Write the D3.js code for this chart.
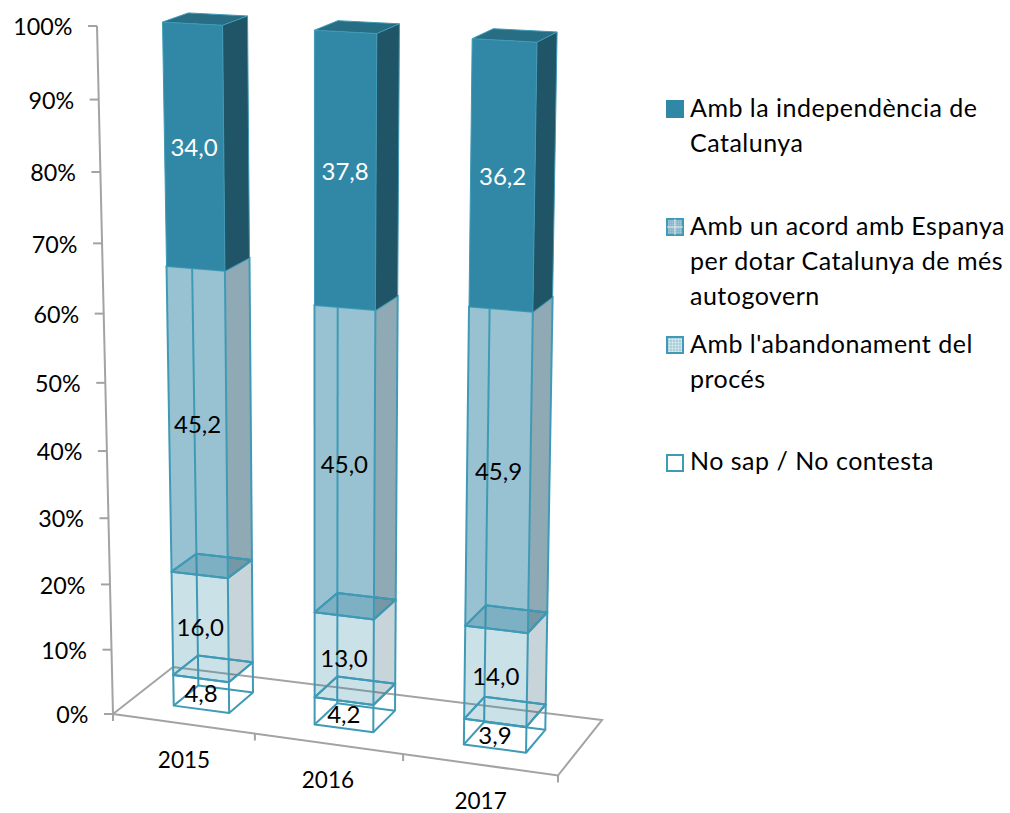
<!DOCTYPE html>
<html><head><meta charset="utf-8">
<script src="https://cdn.jsdelivr.net/npm/d3@7"></script>
<style>html,body{margin:0;padding:0;background:#fff}svg{display:block}text{font-family:Lato,"Noto Sans",sans-serif;fill:#000}</style>
</head><body><div id="chart"></div>
<script>
const categories = ["2015","2016","2017"];
const noSap = [4.8,4.2,3.9];
const abandonament = [16.0,13.0,14.0];
const acord = [45.2,45.0,45.9];
const independencia = [34.0,37.8,36.2];
const valueTicks = [0,10,20,30,40,50,60,70,80,90,100];
const legendLabels = [
  ["Amb la independència de","Catalunya"],
  ["Amb un acord amb Espanya","per dotar Catalunya de més","autogovern"],
  ["Amb l'abandonament del","procés"],
  ["No sap / No contesta"]
];

const W=1010,H=813;
const svg=d3.select("#chart").append("svg").attr("width",W).attr("height",H).attr("viewBox",[0,0,W,H]);

// projection: two calibrated planes (floor, ceiling) mapped from the unit square
function homography(A,B,C,D){
  const dx1=B[0]-C[0],dy1=B[1]-C[1],dx2=D[0]-C[0],dy2=D[1]-C[1];
  const sx=A[0]-B[0]+C[0]-D[0],sy=A[1]-B[1]+C[1]-D[1];
  const den=dx1*dy2-dy1*dx2;
  const g=(sx*dy2-sy*dx2)/den,h=(dx1*sy-dy1*sx)/den;
  const a=B[0]*(1+g)-A[0],b=D[0]*(1+h)-A[0],d=B[1]*(1+g)-A[1],e=D[1]*(1+h)-A[1];
  return (s,w)=>{const q=1+g*s+h*w;return [(A[0]+a*s+b*w)/q,(A[1]+d*s+e*w)/q];};
}
const floorPlane=homography([113,714],[558,775.5],[602,720],[173,667]);
const topPlane=homography([97,26],[570,52],[616,27.5],[160,4.5]);
const value=d3.scaleLinear().domain([0,100]).range([0,1]);
const persp=-0.072;
const frac=v=>{const t=value(v);return t*(1+persp)/(1+persp*t);};
const planeWarp=0.025;
const project=(s,w,v)=>{
  const sw=s+planeWarp*s*(1-s);
  const a=floorPlane(sw,w),b=topPlane(sw,w),f=frac(v);
  return [d3.interpolateNumber(a[0],b[0])(f),d3.interpolateNumber(a[1],b[1])(f)];
};
const band=d3.scaleBand().domain(categories).range([0.005,1.005]).paddingInner(0.6).paddingOuter(0.3);
const depth=d3.scaleLinear().domain([0,1]).range([0.29,0.71]);

const line=d3.line();
const grey="#a3a3a3";
const floor=svg.append("g").attr("fill","none").attr("stroke",grey).attr("stroke-width",2);
floor.append("path").attr("d",line([project(0,0,0),project(1,0,0),project(1,1,0),project(0,1,0)])+"Z");
floor.append("path").attr("d",line([project(0,0,0),project(0,0,100)]));
// value axis ticks and labels
const axis=svg.append("g");
valueTicks.forEach(t=>{
  const p=project(0,0,t);
  axis.append("line").attr("x1",p[0]-9).attr("x2",p[0]).attr("y1",p[1]).attr("y2",p[1]).attr("stroke",grey).attr("stroke-width",2);
  axis.append("text").attr("x",p[0]-24.5).attr("y",p[1]+1).attr("dy","0.35em").attr("text-anchor","end").attr("font-size",23.3).text(t+"%");
});
// category axis
[0,...categories.map((c,i)=>band.step()*(i+1)+(i===2?0:0.005))].forEach(s=>{
  const p=project(s,0,0);
  svg.append("line").attr("x1",p[0]).attr("x2",p[0]).attr("y1",p[1]).attr("y2",p[1]+7).attr("stroke",grey).attr("stroke-width",2);
});
categories.forEach(c=>{
  const p=project(band(c)+band.bandwidth()/2,0,0);
  svg.append("text").attr("x",p[0]).attr("y",p[1]+36).attr("dy","0.35em").attr("text-anchor","middle").attr("font-size",22.5).text(c);
});

// stacked 3D bars
const seriesList=[
  {values:noSap,front:null,side:null,top:null,text:"#000"},
  {values:abandonament,front:"rgba(49,134,164,0.25)",side:"rgba(31,85,105,0.25)",top:"rgba(38,110,133,0.25)",text:"#000"},
  {values:acord,front:"rgba(49,134,164,0.5)",side:"rgba(31,85,105,0.5)",top:"rgba(38,110,133,0.5)",text:"#000"},
  {values:independencia,front:"#3188a6",side:"#1f5566",top:"#276d84",text:"#fff",solid:true}
];
const edge="#3f9ab6";
const bars=svg.append("g");
const labelLayer=svg.append("g");
categories.forEach((c,i)=>{
  const s0=band(c),s1=s0+band.bandwidth(),w0=depth(0),w1=depth(1);
  let base=0;
  seriesList.forEach(sr=>{
    const v=sr.values[i],v0=base,v1=base+v;base=v1;
    const q=(s,w,val)=>project(s,w,val);
    const g=bars.append("g");
    const FLb=q(s0,w0,v0),FRb=q(s1,w0,v0),BRb=q(s1,w1,v0),BLb=q(s0,w1,v0);
    const FLt=q(s0,w0,v1),FRt=q(s1,w0,v1),BRt=q(s1,w1,v1),BLt=q(s0,w1,v1);
    const poly=(pts,fill)=>g.append("path").attr("d",line(pts)+"Z").attr("fill",fill||"none");
    if(sr.front){
      poly([FLb,FRb,FRt,FLt],sr.front);
      poly([FRb,BRb,BRt,FRt],sr.side);
      poly([FLt,FRt,BRt,BLt],sr.top);
    }
    const stroke=(pts,close)=>g.append("path").attr("d",line(pts)+(close?"Z":"")).attr("fill","none").attr("stroke",edge).attr("stroke-width",sr.solid?1:2).attr("stroke-linejoin","round");
    if(!sr.solid){
      stroke([FLb,FRb,BRb,BLb],true);
      stroke([BLb,BLt]);
    }
    stroke([FLb,FLt]);stroke([FRb,FRt]);stroke([BRb,BRt]);
    stroke([FLt,FRt,BRt,BLt],true);
    const m=project((s0+s1)/2,w0,(v0+v1)/2);
    labelLayer.append("text").attr("x",m[0]).attr("y",m[1]).attr("dy","0.35em").attr("text-anchor","middle").attr("font-size",24).style("fill",sr.text).text(d3.format(".1f")(v).replace(".",","));
  });
});

// legend
const defs=svg.append("defs");
const mkPattern=(id,bg,step,line)=>{
  const p=defs.append("pattern").attr("id",id).attr("patternUnits","userSpaceOnUse").attr("width",step).attr("height",step);
  p.append("rect").attr("width",step).attr("height",step).attr("fill",bg);
  p.append("path").attr("d",`M0 0H${step}M0 0V${step}`).attr("stroke",line).attr("stroke-width",1);
};
mkPattern("pa","#7fb0c3",2,"#a9cad7");
mkPattern("pb","#a9cfdb",3,"#e6f0f4");
const swatchFill=["#3188a6","url(#pa)","url(#pb)","#fff"];
const legendTop=[100,218,336,454];
const legendFirstLine=[108,226,344,461];
const leg=svg.append("g");
legendLabels.forEach((lines,i)=>{
  leg.append("rect").attr("x",667).attr("y",legendTop[i]+1).attr("width",16).attr("height",16).attr("fill",swatchFill[i]).attr("stroke",i===0?"#3188a6":edge).attr("stroke-width",2);
  if(i===1) leg.append("path").attr("d",`M667 ${legendTop[i]+9}h16M675 ${legendTop[i]+1}v16`).attr("stroke","#e2eef2").attr("stroke-width",1);
  lines.forEach((t,j)=>leg.append("text").attr("x",690).attr("y",legendFirstLine[i]+j*35).attr("dy","0.35em").attr("font-size",25).attr("letter-spacing",0.5).text(t));
});
</script></body></html>
